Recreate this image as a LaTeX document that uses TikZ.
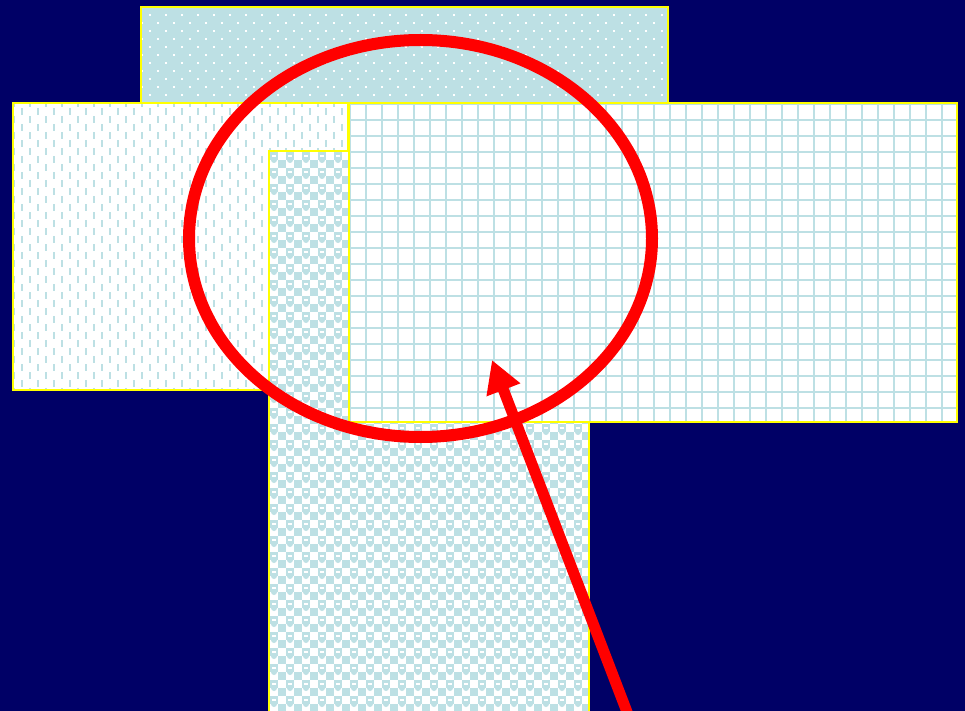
\documentclass[tikz,border=0pt]{standalone}
\usetikzlibrary{arrows.meta,shapes.geometric}
\definecolor{navy}{HTML}{000066}
\definecolor{lblue}{HTML}{BDE0E4}
\definecolor{ybord}{HTML}{FFFF00}
\definecolor{rred}{HTML}{FF0000}
\tikzset{
  panel/.style={draw=ybord,line width=1.5pt},
  pen/.style={draw=rred,line width=12pt},
}
\begin{document}
\begin{tikzpicture}[x=1pt,y=-1pt]
\useasboundingbox (0,0) rectangle (965,711);
\clip (0,0) rectangle (965,711);
\fill[navy] (0,0) rectangle (965,711);
% top dotted panel
\begin{scope}
\clip (141,7) rectangle (668,103);
\fill[lblue] (141,7) rectangle (668,103);
\foreach \r in {0,...,12}{
  \pgfmathsetmacro\yy{14+8*\r}
  \pgfmathsetmacro\off{mod(\r,2)==0 ? 8 : 0}
  \foreach \c in {0,...,34}{
    \fill[white] ({141+\off+16*\c},\yy) rectangle ++(2,2);
  }
}
\end{scope}
\draw[panel] (141,7) rectangle (668,103);
% left dashed panel
\begin{scope}
\clip (13,103) rectangle (348,390);
\fill[white] (13,103) rectangle (348,390);
\foreach \c in {0,...,42}{
  \pgfmathsetmacro\xx{13+8*\c}
  \pgfmathsetmacro\off{mod(\c,2)==0 ? 0 : 8}
  \foreach \r in {0,...,18}{
    \fill[lblue] (\xx,{100+\off+16*\r}) rectangle ++(2,7);
  }
}
\end{scope}
\draw[panel] (13,103) rectangle (348,390);
% centre checker panel
\begin{scope}
\clip (269,151) rectangle (589,720);
\fill[white] (269,151) rectangle (589,720);
\foreach \c in {0,...,20}{
  \foreach \r in {0,...,36}{
    \fill[lblue] ({270+16*\c},{152+16*\r}) rectangle ++(8,8);
    \fill[lblue] ({278+16*\c},{160+16*\r}) rectangle ++(8,8);
    \fill[lblue] ({274+16*\c},{160+16*\r}) circle (3);
    \fill[white] ({272+16*\c},{155+16*\r}) rectangle ++(4,2);
  }
}
\end{scope}
\draw[panel] (269,151) rectangle (589,720);
% right grid panel
\begin{scope}
\clip (349,103) rectangle (957,422);
\fill[white] (349,103) rectangle (957,422);
\foreach \c in {0,...,38}{
  \fill[lblue] ({349+16*\c},103) rectangle ++(2,320);
}
\foreach \r in {0,...,20}{
  \fill[lblue] (349,{103+16*\r}) rectangle ++(610,2);
}
\end{scope}
\draw[panel] (349,103) rectangle (957,422);
% red ellipse and arrow
\node[pen,ellipse,minimum width=463pt,minimum height=397pt,inner sep=0pt] (ring) at (420.5,238.5) {};
\coordinate (tail) at (632,725);
\coordinate (tip) at (492,360);
\draw[pen,line width=11pt,-{Triangle[length=32pt,width=34pt]}] (tail) -- (tip);
\end{tikzpicture}
\end{document}
